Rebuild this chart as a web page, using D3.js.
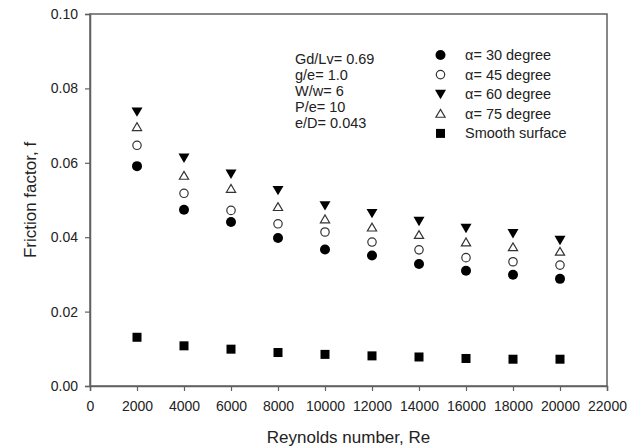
<!DOCTYPE html>
<html>
<head>
<meta charset="utf-8">
<script src="https://cdn.jsdelivr.net/npm/d3@7"></script>
<style>
  html, body { margin: 0; padding: 0; background: #fff; }
  svg { display: block; font-family: Arial, "Liberation Sans", sans-serif; }
</style>
</head>
<body>
<svg id="chart" width="637" height="448"></svg>
<script>
// Reynolds numbers tested
const reynolds = [2000, 4000, 6000, 8000, 10000, 12000, 14000, 16000, 18000, 20000];

// Friction factor for each attack angle, plus the smooth duct
const alpha30 = [0.0591, 0.0474, 0.0441, 0.0398, 0.0367, 0.0351, 0.0328, 0.0310, 0.0299, 0.0288];
const alpha45 = [0.0647, 0.0518, 0.0472, 0.0436, 0.0414, 0.0387, 0.0366, 0.0345, 0.0334, 0.0325];
const alpha60 = [0.0737, 0.0613, 0.0570, 0.0526, 0.0485, 0.0464, 0.0443, 0.0424, 0.0410, 0.0392];
const alpha75 = [0.0696, 0.0565, 0.0530, 0.0481, 0.0448, 0.0426, 0.0406, 0.0386, 0.0373, 0.0361];
const smooth  = [0.0131, 0.0108, 0.0099, 0.0090, 0.0085, 0.0081, 0.0078, 0.0074, 0.0072, 0.0072];

const xTicks = [0, 2000, 4000, 6000, 8000, 10000, 12000, 14000, 16000, 18000, 20000, 22000];
const yTicks = [0.00, 0.02, 0.04, 0.06, 0.08, 0.10];

const seriesNames = ["\u03b1= 30 degree", "\u03b1= 45 degree", "\u03b1= 60 degree", "\u03b1= 75 degree", "Smooth surface"];
const paramLines = ["Gd/Lv= 0.69", "g/e= 1.0", "W/w= 6", "P/e= 10", "e/D= 0.043"];

const series = [
  { name: seriesNames[0], values: alpha30, symbol: "circleFilled" },
  { name: seriesNames[1], values: alpha45, symbol: "circleOpen" },
  { name: seriesNames[2], values: alpha60, symbol: "triDown" },
  { name: seriesNames[3], values: alpha75, symbol: "triUp" },
  { name: seriesNames[4], values: smooth,  symbol: "square" }
];

const svg = d3.select("#chart");
const margin = { left: 90, top: 14, right: 30, bottom: 62 };
const W = 637, H = 448;
const x = d3.scaleLinear().domain([0, 22000]).range([margin.left, W - margin.right]);
const y = d3.scaleLinear().domain([0, 0.10]).range([H - margin.bottom, margin.top]);

const axisColor = "#606060";
const textColor = "#222";

// Frame (top and right edges)
svg.append("rect")
  .attr("x", x(0)).attr("y", y(0.10))
  .attr("width", x(22000) - x(0)).attr("height", y(0) - y(0.10))
  .attr("fill", "none").attr("stroke", axisColor).attr("stroke-width", 1.5);

// Axes
const xAxis = svg.append("g")
  .attr("transform", `translate(0,${y(0)})`)
  .call(d3.axisBottom(x).tickValues(xTicks).tickFormat(d3.format("d")).tickSize(5).tickPadding(10));
const yAxis = svg.append("g")
  .attr("transform", `translate(${x(0)},0)`)
  .call(d3.axisLeft(y).tickValues(yTicks).tickFormat(d3.format(".2f")).tickSize(5).tickPadding(7));

[xAxis, yAxis].forEach(g => {
  g.select(".domain").attr("stroke", axisColor).attr("stroke-width", 1.5);
  g.selectAll(".tick line").attr("stroke", axisColor).attr("stroke-width", 1.2);
  g.selectAll(".tick text").attr("fill", textColor).style("font-size", "14px")
    .style("font-family", "Arial, 'Liberation Sans', sans-serif");
});

// Axis titles
svg.append("text")
  .attr("x", (x(0) + x(22000)) / 2).attr("y", 443)
  .attr("text-anchor", "middle").attr("fill", textColor)
  .style("font-size", "17px").text("Reynolds number, Re");
svg.append("text")
  .attr("transform", `translate(36,${(y(0) + y(0.10)) / 2}) rotate(-90)`)
  .attr("text-anchor", "middle").attr("fill", textColor)
  .style("font-size", "17px").text("Friction factor, f");

// Marker drawing
function drawSymbol(g, type, cx, cy) {
  if (type === "circleFilled") {
    g.append("circle").attr("cx", cx).attr("cy", cy).attr("r", 5).attr("fill", "#000");
  } else if (type === "circleOpen") {
    g.append("circle").attr("cx", cx).attr("cy", cy).attr("r", 4.2)
      .attr("fill", "#fff").attr("stroke", "#333").attr("stroke-width", 1.2);
  } else if (type === "triDown") {
    const s = 5.5;
    g.append("path")
      .attr("d", `M${cx - s},${cy - s * 0.8}L${cx + s},${cy - s * 0.8}L${cx},${cy + s * 0.9}Z`)
      .attr("fill", "#000");
  } else if (type === "triUp") {
    const s = 4.6;
    g.append("path")
      .attr("d", `M${cx - s},${cy + s * 0.75}L${cx + s},${cy + s * 0.75}L${cx},${cy - s * 0.95}Z`)
      .attr("fill", "#fff").attr("stroke", "#333").attr("stroke-width", 1.2);
  } else if (type === "square") {
    g.append("rect").attr("x", cx - 4.5).attr("y", cy - 4.5)
      .attr("width", 9).attr("height", 9).attr("fill", "#000");
  }
}

// Data points
series.forEach(s => {
  const g = svg.append("g").attr("class", "series");
  reynolds.forEach((re, i) => drawSymbol(g, s.symbol, x(re), y(s.values[i])));
});

// Geometry parameters
const params = svg.append("g").attr("fill", textColor).style("font-size", "14.5px");
paramLines.forEach((t, i) => {
  params.append("text").attr("x", 295).attr("y", 64 + i * 16).text(t);
});

// Legend
const legend = svg.append("g");
series.forEach((s, i) => {
  const ly = 55 + i * 19.6;
  drawSymbol(legend, s.symbol, 440.5, ly);
  legend.append("text").attr("x", 465).attr("y", ly + 5)
    .attr("fill", textColor).style("font-size", "14.5px").text(s.name);
});
</script>
</body>
</html>
